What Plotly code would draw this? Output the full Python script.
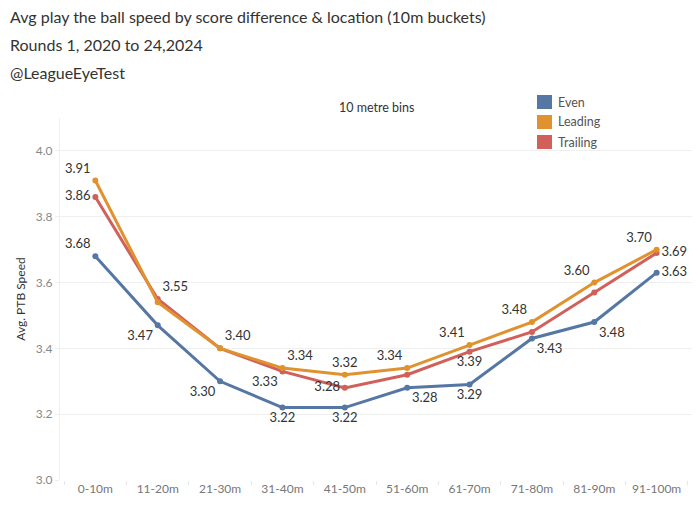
import plotly.graph_objects as go

categories = ["0-10m", "11-20m", "21-30m", "31-40m", "41-50m",
              "51-60m", "61-70m", "71-80m", "81-90m", "91-100m"]
even = [3.68, 3.47, 3.30, 3.22, 3.22, 3.28, 3.29, 3.43, 3.48, 3.63]
leading = [3.91, 3.54, 3.40, 3.34, 3.32, 3.34, 3.41, 3.48, 3.60, 3.70]
trailing = [3.86, 3.55, 3.40, 3.33, 3.28, 3.32, 3.39, 3.45, 3.57, 3.69]

# which labels Tableau shows, and where
even_show = [1, 1, 1, 1, 1, 1, 1, 1, 1, 1]
even_pos = ["top left", "bottom left", "bottom left", "bottom center", "bottom center",
            "bottom right", "bottom center", "bottom right", "bottom right", "middle right"]
lead_show = [1, 0, 1, 1, 1, 1, 1, 1, 1, 1]
lead_pos = ["top left", "top center", "top right", "top right", "top center",
            "top left", "top left", "top left", "top left", "top left"]
trail_show = [1, 1, 0, 1, 1, 0, 1, 0, 0, 1]
trail_pos = ["middle left", "top right", "top center", "bottom left", "middle left",
             "top center", "bottom center", "top center", "top center", "middle right"]

colors = {"Even": "#5677a4", "Leading": "#e0922f", "Trailing": "#d1605a"}
FONT = "Lato"

fig = go.Figure()
series = [("Trailing", trailing, trail_show, trail_pos),
          ("Leading", leading, lead_show, lead_pos),
          ("Even", even, even_show, even_pos)]
for name, vals, show, pos in series:
    fig.add_trace(go.Scatter(
        x=categories, y=vals, name=name, mode="lines+markers+text",
        line=dict(color=colors[name], width=3),
        marker=dict(color=colors[name], size=6),
        text=[f"{v:.2f}" if s else "" for v, s in zip(vals, show)],
        textposition=pos,
        textfont=dict(family=FONT, size=13, color="#333333"),
        cliponaxis=False, showlegend=False,
    ))

fig.update_layout(
    width=698, height=511,
    margin=dict(l=60, r=6, t=118, b=31),
    paper_bgcolor="white", plot_bgcolor="white",
    font=dict(family=FONT, color="#333333"),
    showlegend=False,
)
fig.update_xaxes(
    type="category", tickson="boundaries", ticks="outside", ticklen=4,
    tickcolor="#e6e6e6", showgrid=False, showline=False, zeroline=False,
    tickfont=dict(family=FONT, size=12, color="#777777"),
)
fig.update_yaxes(
    range=[3.0, 4.1], tickvals=[3.0, 3.2, 3.4, 3.6, 3.8, 4.0], ticktext=["3.0", "3.2", "3.4", "3.6", "3.8", "4.0"],
    showgrid=True, gridcolor="#efefef", gridwidth=1, zeroline=False,
    showline=True, linecolor="#efefef", ticks="outside", ticklen=4, tickcolor="#efefef",
    tickfont=dict(family=FONT, size=12, color="#888888"),
    title=dict(text="Avg. PTB Speed", font=dict(family=FONT, size=12, color="#333333"), standoff=7),
)

titles = ["Avg play the ball speed by score difference & location (10m buckets)",
          "Rounds 1, 2020 to 24,2024", "@LeagueEyeTest"]
for i, t in enumerate(titles):
    fig.add_annotation(text=t, xref="paper", yref="paper", x=-52/632, y=1 + (118 - 17 - i * 27.5) / 362,
                       xanchor="left", yanchor="middle", showarrow=False,
                       font=dict(family=FONT, size=16, color="#333333"))

fig.add_annotation(text="10 metre bins", xref="paper", yref="paper", x=(377 - 60) / 632, y=1 + (118 - 108) / 362,
                   xanchor="center", yanchor="middle", showarrow=False,
                   font=dict(family=FONT, size=12.5, color="#333333"))

for i, name in enumerate(["Even", "Leading", "Trailing"]):
    ytop = 95 + i * 20
    fig.add_shape(type="rect", xref="paper", yref="paper",
                  x0=(537 - 60) / 632, x1=(552 - 60) / 632,
                  y0=1 + (118 - ytop - 14) / 362, y1=1 + (118 - ytop) / 362,
                  fillcolor=colors[name], line=dict(width=0))
    fig.add_annotation(text=name, xref="paper", yref="paper", x=(556 - 60) / 632,
                       y=1 + (118 - ytop - 7) / 362, xanchor="left", yanchor="middle",
                       showarrow=False, font=dict(family=FONT, size=12.5, color="#555555"))

fig.write_html("out.html")
